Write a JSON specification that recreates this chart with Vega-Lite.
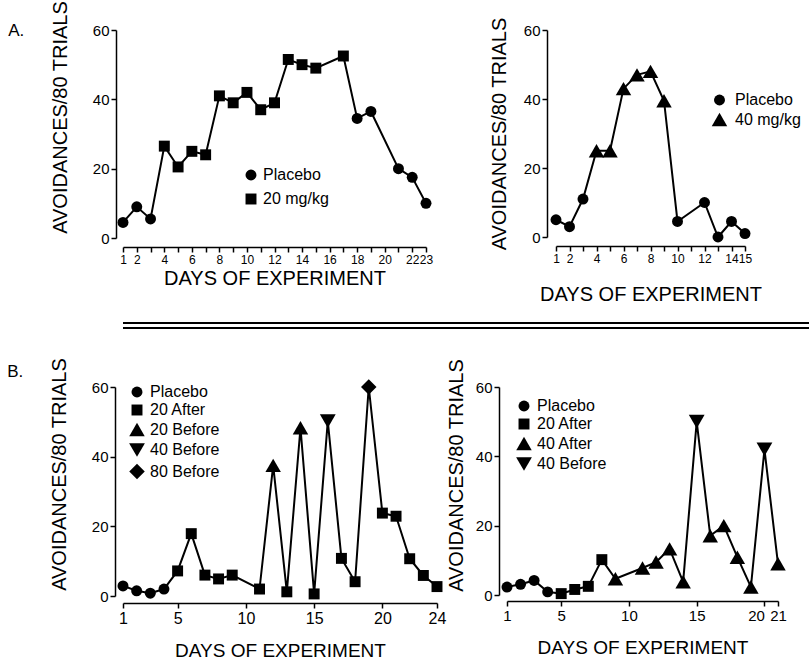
{
  "$schema": "https://vega.github.io/schema/vega-lite/v6.json",
  "padding": {"left": 7, "top": 0, "right": 0, "bottom": 0},
  "background": "white",
  "config": {
    "view": {"stroke": null},
    "font": "Liberation Sans",
    "axis": {
      "grid": false,
      "domainColor": "black",
      "domainWidth": 1.5,
      "tickColor": "black",
      "tickWidth": 1.5,
      "tickSize": 5,
      "labelColor": "black",
      "titleColor": "black",
      "labelFont": "Liberation Sans",
      "titleFont": "Liberation Sans",
      "titleFontWeight": "normal",
      "labelFontSize": 15,
      "titleFontSize": 20,
      "labelPadding": 2,
      "labelOverlap": false,
      "labelBound": false,
      "labelFlush": false
    },
    "legend": {
      "labelFont": "Liberation Sans",
      "labelFontSize": 16,
      "labelColor": "black",
      "symbolFillColor": "black",
      "symbolStrokeColor": "black",
      "symbolSize": 120,
      "symbolOpacity": 1,
      "labelOffset": 4,
      "rowPadding": 4,
      "padding": 0
    },
    "title": {"font": "Liberation Sans", "fontWeight": "normal", "fontSize": 18, "color": "black"}
  },
  "datasets": {
    "a1": [
      {"day": 1, "value": 4.5, "group": "Placebo"},
      {"day": 2, "value": 9, "group": "Placebo"},
      {"day": 3, "value": 5.5, "group": "Placebo"},
      {"day": 4, "value": 26.5, "group": "20 mg/kg"},
      {"day": 5, "value": 20.5, "group": "20 mg/kg"},
      {"day": 6, "value": 25, "group": "20 mg/kg"},
      {"day": 7, "value": 24, "group": "20 mg/kg"},
      {"day": 8, "value": 41, "group": "20 mg/kg"},
      {"day": 9, "value": 39, "group": "20 mg/kg"},
      {"day": 10, "value": 42, "group": "20 mg/kg"},
      {"day": 11, "value": 37, "group": "20 mg/kg"},
      {"day": 12, "value": 39, "group": "20 mg/kg"},
      {"day": 13, "value": 51.5, "group": "20 mg/kg"},
      {"day": 14, "value": 50, "group": "20 mg/kg"},
      {"day": 15, "value": 49, "group": "20 mg/kg"},
      {"day": 17, "value": 52.5, "group": "20 mg/kg"},
      {"day": 18, "value": 34.5, "group": "Placebo"},
      {"day": 19, "value": 36.5, "group": "Placebo"},
      {"day": 21, "value": 20, "group": "Placebo"},
      {"day": 22, "value": 17.5, "group": "Placebo"},
      {"day": 23, "value": 10, "group": "Placebo"}
    ],
    "a2": [
      {"day": 1, "value": 5, "group": "Placebo"},
      {"day": 2, "value": 3, "group": "Placebo"},
      {"day": 3, "value": 11, "group": "Placebo"},
      {"day": 4, "value": 25, "group": "40 mg/kg"},
      {"day": 5, "value": 25, "group": "40 mg/kg"},
      {"day": 6, "value": 43, "group": "40 mg/kg"},
      {"day": 7, "value": 47, "group": "40 mg/kg"},
      {"day": 8, "value": 48, "group": "40 mg/kg"},
      {"day": 9, "value": 39.5, "group": "40 mg/kg"},
      {"day": 10, "value": 4.5, "group": "Placebo"},
      {"day": 12, "value": 10, "group": "Placebo"},
      {"day": 13, "value": 0, "group": "Placebo"},
      {"day": 14, "value": 4.5, "group": "Placebo"},
      {"day": 15, "value": 1, "group": "Placebo"}
    ],
    "b1": [
      {"day": 1, "value": 2.9, "group": "Placebo"},
      {"day": 2, "value": 1.5, "group": "Placebo"},
      {"day": 3, "value": 0.8, "group": "Placebo"},
      {"day": 4, "value": 2, "group": "Placebo"},
      {"day": 5, "value": 7.2, "group": "20 After"},
      {"day": 6, "value": 17.9, "group": "20 After"},
      {"day": 7, "value": 6, "group": "20 After"},
      {"day": 8, "value": 4.9, "group": "20 After"},
      {"day": 9, "value": 6, "group": "20 After"},
      {"day": 11, "value": 2, "group": "20 After"},
      {"day": 12, "value": 37.5, "group": "20 Before"},
      {"day": 13, "value": 1.2, "group": "20 After"},
      {"day": 14, "value": 48.3, "group": "20 Before"},
      {"day": 15, "value": 0.6, "group": "20 After"},
      {"day": 16, "value": 50.2, "group": "40 Before"},
      {"day": 17, "value": 10.8, "group": "20 After"},
      {"day": 18, "value": 4.1, "group": "20 After"},
      {"day": 19, "value": 60, "group": "80 Before"},
      {"day": 20, "value": 23.8, "group": "20 After"},
      {"day": 21, "value": 22.9, "group": "20 After"},
      {"day": 22, "value": 10.7, "group": "20 After"},
      {"day": 23, "value": 5.9, "group": "20 After"},
      {"day": 24, "value": 2.7, "group": "20 After"}
    ],
    "b2": [
      {"day": 1, "value": 2.3, "group": "Placebo"},
      {"day": 2, "value": 3.1, "group": "Placebo"},
      {"day": 3, "value": 4.2, "group": "Placebo"},
      {"day": 4, "value": 0.9, "group": "Placebo"},
      {"day": 5, "value": 0.4, "group": "20 After"},
      {"day": 6, "value": 1.6, "group": "20 After"},
      {"day": 7, "value": 2.5, "group": "20 After"},
      {"day": 8, "value": 10.2, "group": "20 After"},
      {"day": 9, "value": 4.7, "group": "40 After"},
      {"day": 11, "value": 7.8, "group": "40 After"},
      {"day": 12, "value": 9.5, "group": "40 After"},
      {"day": 13, "value": 13.3, "group": "40 After"},
      {"day": 14, "value": 3.8, "group": "40 After"},
      {"day": 15, "value": 50, "group": "40 Before"},
      {"day": 16, "value": 17.1, "group": "40 After"},
      {"day": 17, "value": 20, "group": "40 After"},
      {"day": 18, "value": 10.9, "group": "40 After"},
      {"day": 19, "value": 2.3, "group": "40 After"},
      {"day": 20, "value": 42, "group": "40 Before"},
      {"day": 21, "value": 9, "group": "40 After"}
    ],
    "divider": [{"line": "a"}, {"line": "b"}]
  },
  "vconcat": [
    {
      "vconcat": [
        {
          "hconcat": [
            {
              "width": 303,
              "height": 208,
              "title": {"text": "A.", "orient": "left", "anchor": "end", "angle": 0, "offset": 10, "dy": 23, "fontSize": 17},
              "data": {"name": "a1"},
              "encoding": {
                "x": {"field": "day", "type": "quantitative", "scale": {"domain": [1, 23], "nice": false, "zero": false},
                  "axis": {"title": "DAYS OF EXPERIMENT", "offset": 9, "values": [1,2,3,4,5,6,7,8,9,10,11,12,13,14,15,16,17,18,19,20,21,22,23],
                    "labelExpr": "(datum.value == 1 || datum.value == 23 || datum.value % 2 == 0) ? datum.label : ''", "titlePadding": 3, "labelFontSize": 12}},
                "y": {"field": "value", "type": "quantitative", "scale": {"domain": [0, 60], "nice": false},
                  "axis": {"title": "AVOIDANCES/80 TRIALS", "offset": 7, "values": [0, 20, 40, 60], "titlePadding": 22, "titleY": 87}}
              },
              "layer": [
                {"mark": {"type": "line", "color": "black", "strokeWidth": 2}},
                {"mark": {"type": "point", "filled": true, "color": "black", "opacity": 1, "size": 120},
                  "encoding": {"shape": {"field": "group", "type": "nominal",
                    "scale": {"domain": ["Placebo", "20 mg/kg"], "range": ["circle", "square"]},
                    "legend": {"title": null, "orient": "none", "legendX": 120, "legendY": 137, "rowPadding": 6}}}}
              ]
            },
            {
              "width": 189,
              "height": 207,
              "data": {"name": "a2"},
              "encoding": {
                "x": {"field": "day", "type": "quantitative", "scale": {"domain": [1, 15], "nice": false, "zero": false},
                  "axis": {"title": "DAYS OF EXPERIMENT", "offset": 9, "values": [1,2,3,4,5,6,7,8,9,10,11,12,13,14,15],
                    "labelExpr": "(datum.value == 1 || datum.value == 15 || datum.value % 2 == 0) ? datum.label : ''", "titlePadding": 20, "labelFontSize": 12}},
                "y": {"field": "value", "type": "quantitative", "scale": {"domain": [0, 60], "nice": false},
                  "axis": {"title": "AVOIDANCES/80 TRIALS", "offset": 9, "values": [0, 20, 40, 60], "titlePadding": 14}}
              },
              "layer": [
                {"mark": {"type": "line", "color": "black", "strokeWidth": 2}},
                {"mark": {"type": "point", "filled": true, "color": "black", "opacity": 1},
                  "encoding": {
                    "shape": {"field": "group", "type": "nominal",
                      "scale": {"domain": ["Placebo", "40 mg/kg"], "range": ["circle", "triangle-up"]},
                      "legend": {"title": null, "orient": "none", "legendX": 155, "legendY": 62, "rowPadding": 0, "labelOffset": 7}},
                    "size": {"field": "group", "type": "nominal", "scale": {"type": "ordinal", "domain": ["Placebo", "40 mg/kg"], "range": [120, 240]},
                      "legend": {"title": null, "orient": "none", "legendX": 155, "legendY": 62, "rowPadding": 0, "labelOffset": 7}}
                  }}
              ]
            }
          ],
          "spacing": 56,
          "resolve": {"scale": {"x": "independent", "y": "independent", "shape": "independent", "size": "independent"}, "legend": {"shape": "independent", "size": "independent"}}
        },
        {
          "width": 802,
          "height": 5,
          "data": {"name": "divider"},
          "mark": {"type": "rule", "color": "black", "strokeWidth": 2},
          "encoding": {"y": {"field": "line", "type": "nominal", "axis": null, "scale": {"type": "point", "padding": 0}}}
        }
      ],
      "spacing": 18,
      "align": "none"
    },
    {
      "hconcat": [
        {
          "width": 314,
          "height": 209,
          "title": {"text": "B.", "orient": "left", "anchor": "end", "angle": 0, "offset": 10, "dy": 7, "fontSize": 17},
          "data": {"name": "b1"},
          "encoding": {
            "x": {"field": "day", "type": "quantitative", "scale": {"domain": [1, 24], "nice": false, "zero": false},
              "axis": {"title": "DAYS OF EXPERIMENT", "offset": 7, "values": [1, 5, 10, 15, 20, 24], "titlePadding": 15, "titleFontSize": 19, "labelFontSize": 16}},
            "y": {"field": "value", "type": "quantitative", "scale": {"domain": [0, 60], "nice": false},
              "axis": {"title": "AVOIDANCES/80 TRIALS", "offset": 8, "values": [0, 20, 40, 60], "titlePadding": 22, "titleY": 87}}
          },
          "layer": [
            {"mark": {"type": "line", "color": "black", "strokeWidth": 2}},
            {"mark": {"type": "point", "filled": true, "color": "black", "opacity": 1},
              "encoding": {
                "shape": {"field": "group", "type": "nominal",
                  "scale": {"domain": ["Placebo", "20 After", "20 Before", "40 Before", "80 Before"], "range": ["circle", "square", "triangle-up", "triangle-down", "diamond"]},
                  "legend": {"title": null, "orient": "none", "legendX": 5, "legendY": -3, "rowPadding": 0}},
                "size": {"field": "group", "type": "nominal", "scale": {"type": "ordinal", "domain": ["Placebo", "20 After", "20 Before", "40 Before", "80 Before"], "range": [120, 120, 240, 250, 240]},
                  "legend": {"title": null, "orient": "none", "legendX": 5, "legendY": -3, "rowPadding": 0}}
              }}
          ]
        },
        {
          "width": 271,
          "height": 208,
          "data": {"name": "b2"},
          "encoding": {
            "x": {"field": "day", "type": "quantitative", "scale": {"domain": [1, 21], "nice": false, "zero": false},
              "axis": {"title": "DAYS OF EXPERIMENT", "offset": 6, "values": [1, 5, 10, 15, 20, 21], "titlePadding": 15, "titleFontSize": 19, "labelFontSize": 15,
                "labelAlign": {"condition": {"test": "datum.value == 20", "value": "right"}, "value": "center"}}},
            "y": {"field": "value", "type": "quantitative", "scale": {"domain": [0, 60], "nice": false},
              "axis": {"title": "AVOIDANCES/80 TRIALS", "offset": 8, "values": [0, 20, 40, 60], "titlePadding": 9, "titleY": 88}}
          },
          "layer": [
            {"mark": {"type": "line", "color": "black", "strokeWidth": 2}},
            {"mark": {"type": "point", "filled": true, "color": "black", "opacity": 1},
              "encoding": {
                "shape": {"field": "group", "type": "nominal",
                  "scale": {"domain": ["Placebo", "20 After", "40 After", "40 Before"], "range": ["circle", "square", "triangle-up", "triangle-down"]},
                  "legend": {"title": null, "orient": "none", "legendX": 8, "legendY": 11, "rowPadding": 0}},
                "size": {"field": "group", "type": "nominal", "scale": {"type": "ordinal", "domain": ["Placebo", "20 After", "40 After", "40 Before"], "range": [120, 120, 240, 250]},
                  "legend": {"title": null, "orient": "none", "legendX": 8, "legendY": 11, "rowPadding": 0}}
              }}
          ]
        }
      ],
      "spacing": 0,
      "resolve": {"scale": {"x": "independent", "y": "independent", "shape": "independent", "size": "independent"}, "legend": {"shape": "independent", "size": "independent"}}
    }
  ],
  "spacing": 28
}
